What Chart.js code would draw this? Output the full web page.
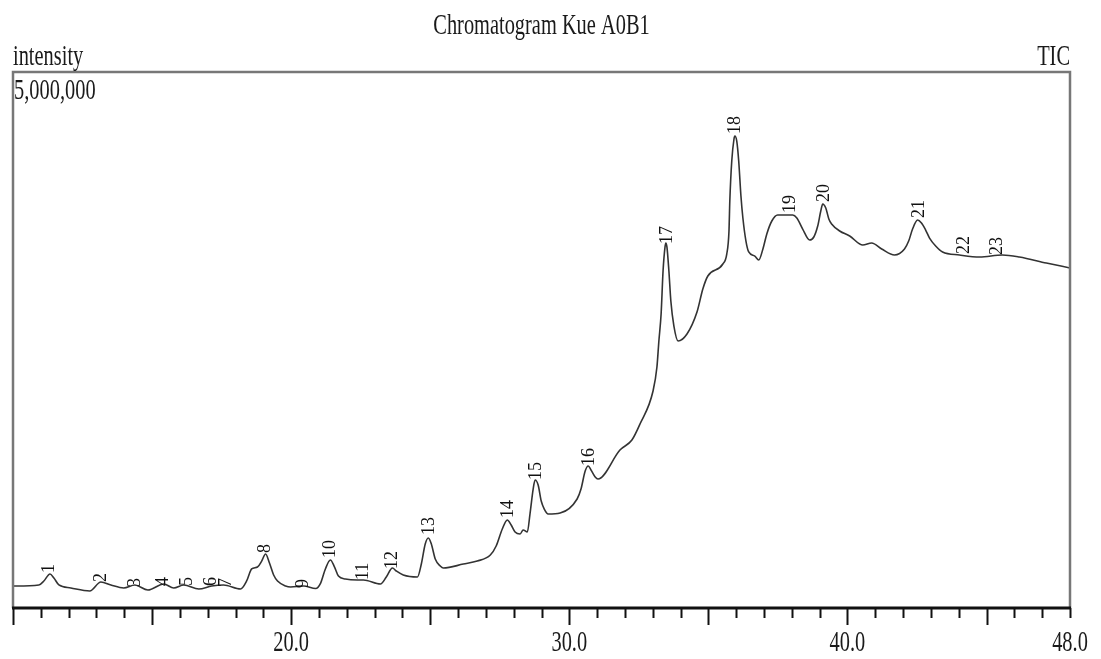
<!DOCTYPE html>
<html>
<head>
<meta charset="utf-8">
<title>Chromatogram Kue A0B1</title>
<script src="https://cdn.jsdelivr.net/npm/chart.js@4.4.1/dist/chart.umd.min.js"></script>
<style>
  body { margin: 0; background: #fff; }
  #chart { display: block; }
</style>
</head>
<body>
<canvas id="chart" width="1101" height="659"></canvas>
<script>
// retention time (min) and TIC intensity
const times = [
  10.00, 10.93, 11.11, 11.33, 11.47, 11.65, 12.08, 12.76, 13.16, 13.52,
  13.98, 14.38, 14.85, 15.42, 15.78, 16.14, 16.68, 17.14, 17.57, 18.18,
  18.40, 18.58, 18.79, 18.94, 19.08, 19.22, 19.37, 19.51, 19.80, 19.98,
  20.45, 20.88, 21.06, 21.23, 21.41, 21.56, 21.70, 21.95, 22.38, 22.60,
  23.21, 23.42, 23.64, 23.78, 24.03, 24.54, 24.68, 24.82, 24.93, 25.04,
  25.18, 25.36, 25.47, 26.19, 26.69, 27.16, 27.37, 27.59, 27.77, 27.91,
  28.05, 28.23, 28.34, 28.49, 28.59, 28.70, 28.77, 28.88, 28.99, 29.10,
  29.24, 29.67, 30.28, 30.42, 30.57, 30.68, 30.78, 30.93, 31.03, 31.82,
  32.25, 32.54, 33.01, 33.15, 33.22, 33.30, 33.37, 33.44, 33.47, 33.51,
  33.58, 33.65, 33.76, 33.91, 34.23, 34.59, 34.80, 34.98, 35.52, 35.66,
  35.74, 35.77, 35.84, 35.92, 35.95, 36.02, 36.09, 36.17, 36.24, 36.35,
  36.45, 36.67, 36.81, 36.96, 37.10, 37.28, 37.49, 38.03, 38.18, 38.39,
  38.64, 38.79, 38.93, 39.04, 39.11, 39.22, 39.33, 39.43, 39.72, 40.08,
  40.55, 40.87, 41.23, 41.69, 42.05, 42.20, 42.34, 42.52, 42.66, 42.81,
  42.95, 43.17, 43.42, 44.03, 44.75, 45.57, 46.18, 47.15, 48.00
];
const intensity = [
  205000, 215000, 252000, 317000, 280000, 215000, 187000, 159000, 243000, 215000,
  187000, 215000, 168000, 224000, 187000, 215000, 177000, 205000, 215000, 177000,
  252000, 364000, 382000, 438000, 504000, 420000, 308000, 252000, 205000, 196000,
  205000, 182000, 233000, 364000, 448000, 382000, 298000, 271000, 261000, 261000,
  224000, 289000, 373000, 345000, 308000, 289000, 410000, 597000, 653000, 597000,
  457000, 392000, 373000, 410000, 438000, 494000, 578000, 737000, 821000, 774000,
  709000, 690000, 728000, 709000, 886000, 1110000, 1194000, 1147000, 998000, 923000,
  877000, 886000, 1017000, 1110000, 1278000, 1325000, 1287000, 1222000, 1203000, 1474000,
  1567000, 1716000, 2024000, 2248000, 2491000, 2742000, 3144000, 3367000, 3405000, 3367000,
  3144000, 2864000, 2630000, 2491000, 2556000, 2761000, 2976000, 3097000, 3209000, 3302000,
  3517000, 3796000, 4170000, 4375000, 4403000, 4356000, 4170000, 3843000, 3638000, 3423000,
  3321000, 3283000, 3246000, 3349000, 3489000, 3610000, 3666000, 3666000, 3638000, 3535000,
  3433000, 3461000, 3563000, 3703000, 3769000, 3731000, 3629000, 3582000, 3517000, 3470000,
  3386000, 3405000, 3349000, 3293000, 3349000, 3423000, 3535000, 3619000, 3591000, 3526000,
  3451000, 3377000, 3321000, 3293000, 3274000, 3293000, 3274000, 3218000, 3172000
];

// peak numbers with where their labels sit
const peakNums = ['1','2','3','4','5','6','7','8','9','10','11','12','13','14','15','16','17','18','19','20','21','22','23'];
const peakTimes = [11.29, 13.19, 14.38, 15.42, 16.25, 17.14, 17.65, 19.08, 20.45, 21.41, 22.60, 23.64, 24.97, 27.80, 28.81, 30.71, 33.51, 35.95, 37.93, 39.18, 42.59, 44.21, 45.39];
const peakLabelY = [317000, 233000, 187000, 196000, 196000, 196000, 187000, 504000, 177000, 457000, 252000, 354000, 672000, 830000, 1185000, 1315000, 3386000, 4412000, 3675000, 3778000, 3628000, 3293000, 3283000];

const xMin = 10, xMax = 48;
const yMax = 5000000;
const xTickValues = [20, 30, 40, 48];
const xTickLabels = ['20.0', '30.0', '40.0', '48.0'];
const yTopLabel = '5,000,000';

const SERIF = '"Liberation Serif", "Times New Roman", serif';
const SQUEEZE = 0.68;

function squeezedText(ctx, text, x, y, align) {
  ctx.save();
  ctx.translate(x, y);
  ctx.scale(SQUEEZE, 1);
  ctx.textAlign = align;
  ctx.fillText(text, 0, 0);
  ctx.restore();
}

const chromPlugin = {
  id: 'chrom',
  afterDraw(chart) {
    const ctx = chart.ctx;
    const a = chart.chartArea;
    const xs = chart.scales.x;
    const ys = chart.scales.y;
    ctx.save();

    // frame
    ctx.strokeStyle = '#777';
    ctx.lineWidth = 2.5;
    ctx.beginPath();
    ctx.moveTo(a.left, a.bottom);
    ctx.lineTo(a.left, a.top);
    ctx.lineTo(a.right, a.top);
    ctx.lineTo(a.right, a.bottom);
    ctx.stroke();

    // bottom axis + ticks
    ctx.strokeStyle = '#111';
    ctx.lineWidth = 3;
    ctx.beginPath();
    ctx.moveTo(a.left - 1, a.bottom);
    ctx.lineTo(a.right + 1, a.bottom);
    ctx.stroke();
    ctx.lineWidth = 2;
    for (let t = xMin; t <= xMax; t++) {
      const px = Math.round(xs.getPixelForValue(t)) + 0.5;
      const len = t % 5 === 0 ? 17 : 10;
      ctx.beginPath();
      ctx.moveTo(px, a.bottom);
      ctx.lineTo(px, a.bottom + len);
      ctx.stroke();
    }

    // texts
    ctx.fillStyle = '#1a1a1a';
    ctx.textBaseline = 'alphabetic';
    ctx.font = '30px ' + SERIF;
    xTickValues.forEach((v, i) => {
      squeezedText(ctx, xTickLabels[i], xs.getPixelForValue(v), 651, 'center');
    });
    squeezedText(ctx, 'Chromatogram Kue A0B1', (a.left + a.right) / 2, 34, 'center');
    squeezedText(ctx, 'intensity', a.left, 65, 'left');
    squeezedText(ctx, 'TIC', a.right, 65, 'right');
    squeezedText(ctx, yTopLabel, a.left + 1, 99, 'left');

    // peak numbers, rotated
    ctx.font = '18px ' + SERIF;
    ctx.fillStyle = '#111';
    peakNums.forEach((n, i) => {
      const px = xs.getPixelForValue(peakTimes[i]);
      const py = ys.getPixelForValue(peakLabelY[i]);
      ctx.save();
      ctx.translate(px, py - 1);
      ctx.rotate(-Math.PI / 2);
      ctx.textAlign = 'left';
      ctx.textBaseline = 'middle';
      ctx.fillText(n, 0, 0);
      ctx.restore();
    });
    ctx.restore();
  }
};

new Chart(document.getElementById('chart'), {
  type: 'line',
  data: {
    datasets: [{
      data: times.map((t, i) => ({ x: t, y: intensity[i] })),
      borderColor: '#333',
      borderWidth: 1.6,
      pointRadius: 0,
      fill: false,
      cubicInterpolationMode: 'monotone'
    }]
  },
  options: {
    responsive: false,
    animation: false,
    layout: { padding: { left: 13, right: 31, top: 72, bottom: 51 } },
    plugins: {
      legend: { display: false },
      tooltip: { enabled: false },
      title: { display: false }
    },
    scales: {
      x: { type: 'linear', min: xMin, max: xMax, display: false },
      y: { type: 'linear', min: 0, max: yMax, display: false }
    }
  },
  plugins: [chromPlugin]
});
</script>
</body>
</html>
